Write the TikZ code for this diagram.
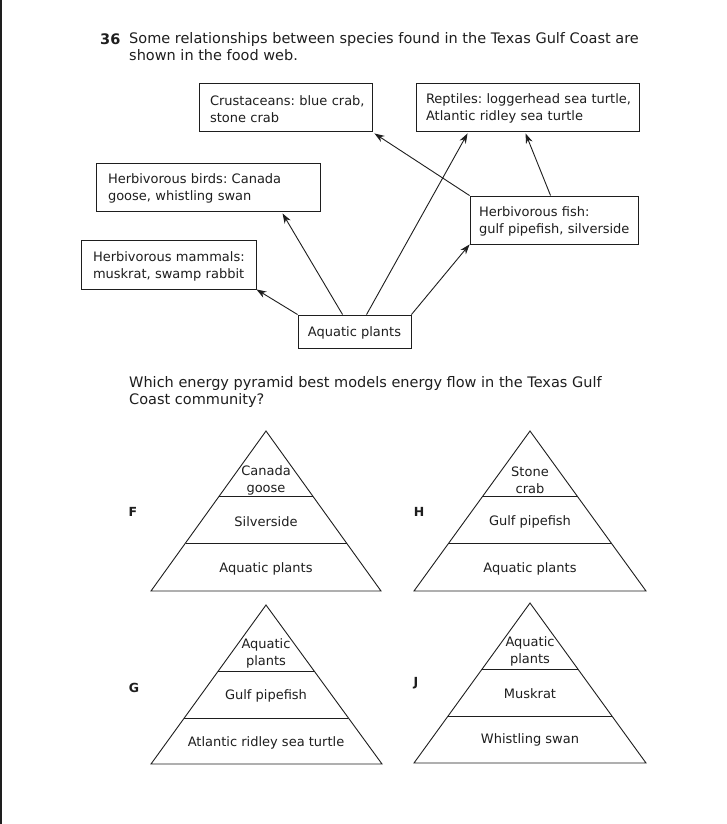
\documentclass[tikz,border=0pt]{standalone}
\usepackage{fontspec}
\setmainfont{DejaVu Sans}
\usetikzlibrary{arrows.meta,calc}
\definecolor{ink}{HTML}{1E1E1E}
\frenchspacing
\begin{document}
\begin{tikzpicture}[x=1pt,y=-1pt,
  every node/.style={text=ink},
  ttl/.style={font=\fontsize{14.5}{17}\selectfont, inner sep=0pt, align=left},
  box/.style={draw=ink, line width=0.9pt, inner ysep=0pt, font=\fontsize{13}{17}\selectfont, align=left,
    execute at begin node={\rule{0pt}{13.5pt}}},
  arr/.style={draw=ink, line width=0.9pt, -{Stealth[length=10pt,width=7pt]}},
  pyr/.style={draw=ink, line width=0.9pt, line join=miter},
  plab/.style={font=\fontsize{13}{17}\selectfont, align=center, inner sep=0pt, yshift=-1.5pt},
  letter/.style={font=\bfseries\fontsize{12.5}{14}\selectfont, inner sep=0pt},
]
\useasboundingbox (0,0) rectangle (726,824);
\fill[white] (0,0) rectangle (726,824);
\draw[ink, line width=2pt] (1,0) -- (1,824);

% title
\node[ttl, anchor=west, font=\bfseries\fontsize{14.5}{17}\selectfont] (num) at (100,39) {36};
\node[ttl, anchor=north west] (intro) at (129,32) {Some relationships between species found in the Texas Gulf Coast are\\shown in the food web.};

% food web boxes
\node[box, minimum width=173pt, minimum height=48pt, inner xsep=11pt, text width=151pt] (crust) at (285.5,107) {\mbox{Crustaceans: blue crab,}\\\mbox{stone crab}};
\node[box, minimum width=223pt, minimum height=48pt, inner xsep=10pt, text width=203pt] (rept) at (527.5,107) {\mbox{Reptiles: loggerhead sea turtle,}\\\mbox{Atlantic ridley sea turtle}};
\node[box, minimum width=224pt, minimum height=48pt, inner xsep=12pt, text width=200pt] (bird) at (208,187) {\mbox{Herbivorous birds: Canada}\\\mbox{goose, whistling swan}};
\node[box, minimum width=168pt, minimum height=48pt, inner xsep=9pt, text width=150pt] (fish) at (554,220) {\mbox{Herbivorous fish:}\\\mbox{gulf pipefish, silverside}};
\node[box, minimum width=175pt, minimum height=49pt, inner xsep=12pt, text width=151pt] (mamm) at (168.5,264.5) {\mbox{Herbivorous mammals:}\\\mbox{muskrat, swamp rabbit}};
\node[box, minimum width=113pt, minimum height=33pt, inner xsep=0pt, align=center, execute at begin node={}] (aqua) at (354.5,331.5) {Aquatic plants};

% arrows
\draw[arr] (aqua.north west) -- (mamm.south east);
\draw[arr] ($(aqua.north west)+(45,0)$) -- ($(bird.south west)+(187,2)$);
\draw[arr] ($(aqua.north west)+(69,0)$) -- ($(rept.south west)+(52,2)$);
\draw[arr] (aqua.north east) -- (fish.south west);
\draw[arr] (fish.north west) -- ($(crust.south east)+(2,2)$);
\draw[arr] ($(fish.north west)+(81,0)$) -- ($(rept.south west)+(110,2)$);

% question
\node[ttl, anchor=north west] (quest) at (129,376) {Which energy pyramid best models energy flow in the Texas Gulf\\Coast community?};

% pyramid F
\coordinate (Fa) at (266,431); \coordinate (Fl) at (151,591); \coordinate (Fr) at (381,591);
\draw[pyr] (Fa) -- (Fl) -- (Fr) -- cycle;
\draw[pyr] ($(Fa)!0.406!(Fl)$) -- ($(Fa)!0.406!(Fr)$);
\draw[pyr] ($(Fa)!0.70!(Fl)$) -- ($(Fa)!0.70!(Fr)$);
\node[plab] (F1) at (266,479) {Canada\\goose};
\node[plab] (F2) at (266,520) {Silverside};
\node[plab] (F3) at (266,567) {Aquatic plants};
\node[letter] (Flab) at (133,512) {F};

% pyramid H
\coordinate (Ha) at (530,431); \coordinate (Hl) at (414,591); \coordinate (Hr) at (646,591);
\draw[pyr] (Ha) -- (Hl) -- (Hr) -- cycle;
\draw[pyr] ($(Ha)!0.406!(Hl)$) -- ($(Ha)!0.406!(Hr)$);
\draw[pyr] ($(Ha)!0.70!(Hl)$) -- ($(Ha)!0.70!(Hr)$);
\node[plab] (H1) at (530,479) {Stone\\crab};
\node[plab] (H2) at (530,520) {Gulf pipefish};
\node[plab] (H3) at (530,567) {Aquatic plants};
\node[letter] (Hlab) at (419,512) {H};

% pyramid G
\coordinate (Ga) at (266,605); \coordinate (Gl) at (151,764); \coordinate (Gr) at (382,764);
\draw[pyr] (Ga) -- (Gl) -- (Gr) -- cycle;
\draw[pyr] ($(Ga)!0.415!(Gl)$) -- ($(Ga)!0.415!(Gr)$);
\draw[pyr] ($(Ga)!0.711!(Gl)$) -- ($(Ga)!0.711!(Gr)$);
\node[plab] (G1) at (266,652) {Aquatic\\plants};
\node[plab] (G2) at (266,694) {Gulf pipefish};
\node[plab] (G3) at (266,741) {Atlantic ridley sea turtle};
\node[letter] (Glab) at (134,688) {G};

% pyramid J
\coordinate (Ja) at (530,603); \coordinate (Jl) at (414,763); \coordinate (Jr) at (646,763);
\draw[pyr] (Ja) -- (Jl) -- (Jr) -- cycle;
\draw[pyr] ($(Ja)!0.4125!(Jl)$) -- ($(Ja)!0.4125!(Jr)$);
\draw[pyr] ($(Ja)!0.706!(Jl)$) -- ($(Ja)!0.706!(Jr)$);
\node[plab] (J1) at (530,650) {Aquatic\\plants};
\node[plab] (J2) at (530,692) {Muskrat};
\node[plab] (J3) at (530,738) {Whistling swan};
\node[letter] (Jlab) at (416,683) {J};
\end{tikzpicture}
\end{document}
